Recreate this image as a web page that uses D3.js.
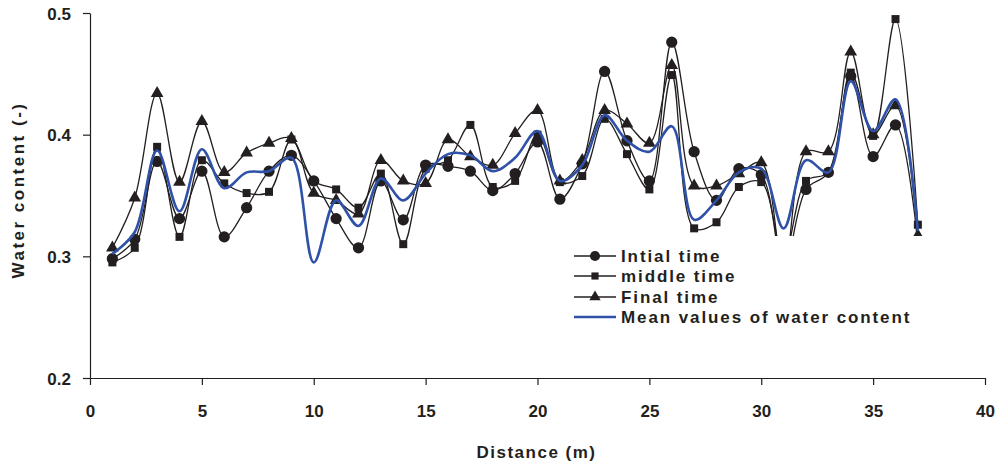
<!DOCTYPE html>
<html>
<head>
<meta charset="utf-8">
<script src="https://cdn.jsdelivr.net/npm/d3@7"></script>
<style>
  body { margin: 0; background: #fff; }
  text { font-family: "Liberation Sans", Arial, sans-serif; font-weight: bold; fill: #231f20; }
</style>
</head>
<body>
<div id="chart"></div>
<script>
// distance along the transect (m)
const distance = [1,2,3,4,5,6,7,8,9,10,11,12,13,14,15,16,17,18,19,20,21,22,23,24,25,26,27,28,29,30,31,32,33,34,35,36,37];

const initialTime = [0.298,0.314,0.378,0.331,0.370,0.316,0.340,0.370,0.383,0.362,0.331,0.307,0.362,0.330,0.375,0.374,0.370,0.354,0.368,0.394,0.347,0.376,0.452,0.395,0.362,0.476,0.386,0.346,0.372,0.367,0.290,0.355,0.369,0.448,0.382,0.408,0.310];
const middleTime = [0.295,0.307,0.390,0.316,0.379,0.360,0.352,0.353,0.396,0.362,0.355,0.340,0.368,0.310,0.372,0.379,0.408,0.357,0.362,0.400,0.361,0.366,0.413,0.384,0.355,0.449,0.323,0.328,0.357,0.361,0.300,0.362,0.369,0.451,0.399,0.495,0.326];
const finalTime = [0.307,0.348,0.434,0.361,0.411,0.369,0.385,0.393,0.397,0.352,0.346,0.335,0.379,0.362,0.360,0.396,0.382,0.375,0.401,0.420,0.362,0.379,0.420,0.409,0.393,0.457,0.358,0.358,0.368,0.377,0.290,0.386,0.386,0.468,0.400,0.424,0.317];
const meanValues = [0.302,0.320,0.387,0.337,0.388,0.356,0.369,0.370,0.381,0.295,0.346,0.325,0.364,0.346,0.368,0.384,0.383,0.370,0.381,0.403,0.362,0.375,0.416,0.395,0.386,0.407,0.330,0.346,0.369,0.372,0.323,0.379,0.369,0.444,0.403,0.429,0.321];

const xTicks = [0,5,10,15,20,25,30,35,40];
const yTicks = [0.2,0.3,0.4,0.5];
const seriesNames = ["Intial time", "middle time", "Final time", "Mean values of water content"];

const W = 1006, H = 470;
const margin = {top: 13, right: 21, bottom: 92, left: 90};
const width = W - margin.left - margin.right;
const height = H - margin.top - margin.bottom;

const svg = d3.select("#chart").append("svg")
  .attr("width", W).attr("height", H);

const g = svg.append("g")
  .attr("transform", `translate(${margin.left},${margin.top})`);

const x = d3.scaleLinear().domain([0, 40]).range([0, width]);
const y = d3.scaleLinear().domain([0.2, 0.5]).range([height, 0]);

// axes
const xAxis = d3.axisBottom(x).tickValues(xTicks).tickSize(7).tickSizeOuter(0).tickPadding(20);
const yAxis = d3.axisLeft(y).tickValues(yTicks).tickSize(7).tickSizeOuter(0).tickPadding(12)
  .tickFormat(d3.format(".1f"));

const xAxisG = g.append("g").attr("transform", `translate(0,${height})`).call(xAxis);
const yAxisG = g.append("g").call(yAxis);

[xAxisG, yAxisG].forEach(a => {
  a.select(".domain").attr("stroke", "#231f20").attr("stroke-width", 1.2);
  a.selectAll(".tick line").attr("stroke", "#231f20").attr("stroke-width", 1.2);
  a.selectAll(".tick text")
    .style("font-family", '"Liberation Sans", Arial, sans-serif')
    .style("font-weight", "bold")
    .style("font-size", "17px")
    .attr("fill", "#231f20");
});
yAxisG.selectAll(".tick text").attr("dy", "0.36em");

// axis titles
svg.append("text")
  .attr("x", margin.left + x(20) - 1)
  .attr("y", 458)
  .attr("text-anchor", "middle")
  .style("font-size", "17px")
  .style("letter-spacing", "1.5px")
  .text("Distance (m)");

svg.append("text")
  .attr("transform", "translate(24,190) rotate(-90)")
  .attr("text-anchor", "middle")
  .style("font-size", "17px")
  .style("letter-spacing", "2.5px")
  .text("Water content (-)");

svg.append("clipPath").attr("id", "plotclip")
  .append("rect").attr("x", 0).attr("y", -2).attr("width", width).attr("height", height + 2);

const plot = g.append("g").attr("clip-path", "url(#plotclip)");

const line = d3.line()
  .x((d, i) => x(distance[i]))
  .y(d => y(d))
  .curve(d3.curveCatmullRom.alpha(0.5));

const blackSeries = [
  {vals: initialTime, sym: d3.symbolCircle, size: 100},
  {vals: middleTime, sym: d3.symbolSquare, size: 64},
  {vals: finalTime, sym: d3.symbolTriangle, size: 70}
];

blackSeries.forEach(s => {
  plot.append("path")
    .attr("d", line(s.vals))
    .attr("fill", "none")
    .attr("stroke", "#231f20")
    .attr("stroke-width", 1.3);
});

blackSeries.forEach(s => {
  plot.selectAll(null)
    .data(s.vals)
    .enter().append("path")
    .attr("transform", (d, i) => `translate(${x(distance[i])},${y(d)})`)
    .attr("d", d3.symbol().type(s.sym).size(s.size))
    .attr("fill", "#231f20");
});

plot.append("path")
  .attr("d", line(meanValues))
  .attr("fill", "none")
  .attr("stroke", "#2f52a8")
  .attr("stroke-width", 2.6);

// legend, white box sits over the lines
const legend = svg.append("g").attr("transform", "translate(566,236)");
legend.append("rect")
  .attr("width", 358).attr("height", 96)
  .attr("fill", "#fff");

const rowsY = [20, 40, 61, 81];
seriesNames.forEach((name, i) => {
  const row = legend.append("g").attr("transform", `translate(0,${rowsY[i]})`);
  row.append("line")
    .attr("x1", 8).attr("x2", 50)
    .attr("stroke", i === 3 ? "#2f52a8" : "#231f20")
    .attr("stroke-width", i === 3 ? 2.6 : 1.3);
  if (i < 3) {
    row.append("path")
      .attr("transform", "translate(29,0)")
      .attr("d", d3.symbol().type(blackSeries[i].sym).size(blackSeries[i].size * 0.8))
      .attr("fill", "#231f20");
  }
  row.append("text")
    .attr("x", 55)
    .attr("y", 6)
    .style("font-size", "17px")
    .style("letter-spacing", "1.9px")
    .text(name);
});
</script>
</body>
</html>
